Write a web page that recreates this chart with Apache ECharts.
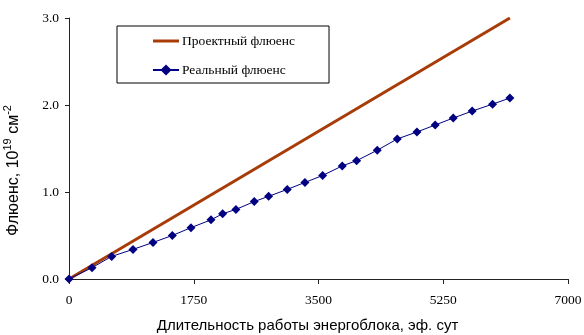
<!DOCTYPE html>
<html lang="ru">
<head>
  <meta charset="UTF-8">
  <title>Флюенс</title>
  <script src="https://cdn.jsdelivr.net/npm/echarts@6/dist/echarts.min.js"></script>
  <style>
    html, body { margin: 0; padding: 0; background: #fff; }
    #chart { width: 584px; height: 335px; }
  </style>
</head>
<body>
  <div id="chart"></div>
  <script>
    // data
    const designDays = [0, 6185];
    const designFluence = [0, 3.0];

    const realDays = [0, 323, 599, 898, 1178, 1449, 1711, 1992, 2155, 2342, 2599, 2800,
      3062, 3310, 3558, 3833, 4035, 4324, 4605, 4881, 5137, 5390, 5656, 5942, 6185];
    const realFluence = [0, 0.13, 0.26, 0.34, 0.42, 0.50, 0.59, 0.68, 0.75, 0.80, 0.89, 0.95,
      1.03, 1.11, 1.19, 1.30, 1.36, 1.48, 1.61, 1.69, 1.77, 1.85, 1.93, 2.01, 2.08];

    const seriesNames = ['Проектный флюенс', 'Реальный флюенс'];

    const serif = '"Liberation Serif", "DejaVu Serif", serif';
    const sans = '"Liberation Sans", Arial, sans-serif';

    // plain thick line for the legend (bounds padded to the full icon box)
    const lineIcon = 'path://M0,0 M0,5.5 L26,5.5 L26,8.5 L0,8.5 Z M26,14';

    const chart = echarts.init(document.getElementById('chart'));

    chart.setOption({
      animation: false,
      backgroundColor: '#fff',
      grid: { left: 69, right: 16, top: 18, bottom: 56, containLabel: false, outerBoundsMode: 'none' },
      legend: {
        orient: 'vertical',
        left: 117,
        top: 26,
        padding: [8, 34, 6, 35],
        itemWidth: 26,
        itemHeight: 14,
        itemGap: 15,
        borderColor: '#000',
        borderWidth: 1,
        textStyle: { fontFamily: serif, fontSize: 13.5, color: '#000', padding: [0, 0, 0, -2] },
        data: [
          { name: seriesNames[0], icon: lineIcon },
          { name: seriesNames[1] }
        ]
      },
      xAxis: {
        type: 'value',
        min: 0,
        max: 7000,
        interval: 1750,
        name: 'Длительность работы энергоблока, эф. сут',
        nameLocation: 'middle',
        nameGap: 39,
        nameTextStyle: { fontFamily: sans, fontSize: 15, color: '#000', padding: [0, 22, 0, 0] },
        axisLine: { lineStyle: { color: '#222', width: 1 } },
        axisTick: { show: true, length: 5, lineStyle: { color: '#222' } },
        axisLabel: {
          fontFamily: serif, fontSize: 13.5, color: '#000', margin: 14,
          formatter: v => String(v)
        },
        splitLine: { show: false }
      },
      yAxis: {
        type: 'value',
        min: 0,
        max: 3,
        interval: 1,
        name: '{n|Флюенс, 10}{s|19}{n| см}{s|-2}',
        nameLocation: 'middle',
        nameGap: 47,
        nameTextStyle: {
          padding: [0, 44, 0, 0],
          rich: {
            n: { fontFamily: sans, fontSize: 16, color: '#000', verticalAlign: 'bottom', lineHeight: 20 },
            s: { fontFamily: sans, fontSize: 11, color: '#000', verticalAlign: 'top', lineHeight: 20 }
          }
        },
        axisLine: { show: true, lineStyle: { color: '#222', width: 1 } },
        axisTick: { show: true, length: 4, lineStyle: { color: '#222' } },
        axisLabel: {
          fontFamily: serif, fontSize: 13.5, color: '#000', margin: 10,
          formatter: v => v.toFixed(1)
        },
        splitLine: { show: false }
      },
      series: [
        {
          name: seriesNames[0],
          type: 'line',
          data: designDays.map((d, i) => [d, designFluence[i]]),
          symbol: 'none',
          lineStyle: { color: '#A83C08', width: 3 },
          itemStyle: { color: '#A83C08' }
        },
        {
          name: seriesNames[1],
          type: 'line',
          data: realDays.map((d, i) => [d, realFluence[i]]),
          symbol: 'diamond',
          symbolSize: 9,
          lineStyle: { color: '#000080', width: 1 },
          itemStyle: { color: '#000080' }
        }
      ]
    });
  </script>
</body>
</html>
